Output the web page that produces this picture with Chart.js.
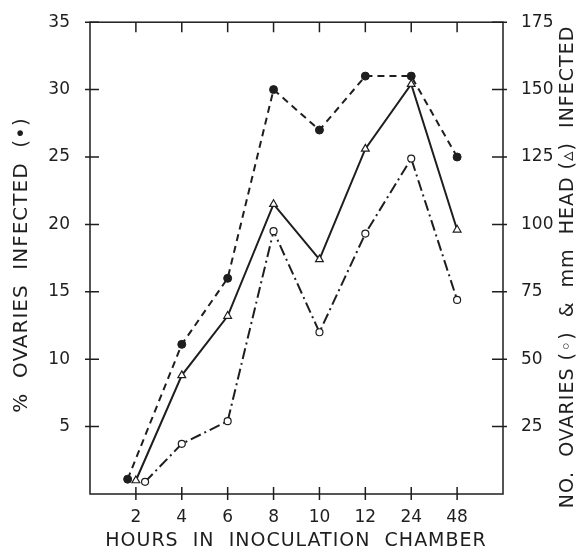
<!DOCTYPE html>
<html>
<head>
<meta charset="utf-8">
<script src="https://cdn.jsdelivr.net/npm/chart.js@4"></script>
<style>
  html, body { margin: 0; padding: 0; background: #fff; }
  #wrap { width: 578px; height: 558px; }
</style>
</head>
<body>
<div id="wrap"><canvas id="chart" width="578" height="558"></canvas></div>
<script>
// hours in inoculation chamber (evenly spaced categories)
const hours = ['2', '4', '6', '8', '10', '12', '24', '48'];
// category slot of each point; at 2 h the three symbols are nudged apart
const dotSlots = [0.82, 2, 3, 4, 5, 6, 7, 8];
const triSlots = [1.0, 2, 3, 4, 5, 6, 7, 8];
const circSlots = [1.2, 2, 3, 4, 5, 6, 7, 8];

// % ovaries infected (filled dots, left axis)
const pctOvaries = [1.1, 11.1, 16, 30, 27, 31, 31, 25];
// mm head infected (triangles, right axis)
const mmHead = [5, 44, 66, 107.5, 87, 128, 152, 98];
// no. ovaries infected (open circles, right axis)
const noOvaries = [4.5, 18.6, 27, 97.5, 60, 96.6, 124.4, 72];

const leftTicks = [5, 10, 15, 20, 25, 30, 35];
const rightTicks = [25, 50, 75, 100, 125, 150, 175];

const ink = '#1e1e1e';
const FONT = '"DejaVu Sans", "Liberation Sans", sans-serif';

function pts(xs, ys) {
    return ys.map((y, i) => ({ x: xs[i], y: y }));
}

const framePlugin = {
    id: 'frame',
    afterDraw(chart) {
        const ctx = chart.ctx;
        const a = chart.chartArea;
        const sx = chart.scales.x, sy = chart.scales.y, sy1 = chart.scales.y1;
        ctx.save();
        ctx.strokeStyle = ink;
        ctx.lineWidth = 1.5;
        ctx.strokeRect(a.left, a.top, a.right - a.left, a.bottom - a.top);

        ctx.beginPath();
        hours.forEach((h, i) => {
            const x = sx.getPixelForValue(i + 1);
            ctx.moveTo(x, a.bottom - 7); ctx.lineTo(x, a.bottom + 6);
            ctx.moveTo(x, a.top); ctx.lineTo(x, a.top + 10);
        });
        leftTicks.forEach(v => {
            const y = sy.getPixelForValue(v);
            ctx.moveTo(a.left - 5, y); ctx.lineTo(a.left + 9, y);
        });
        rightTicks.forEach(v => {
            const y = sy1.getPixelForValue(v);
            ctx.moveTo(a.right - 11, y); ctx.lineTo(a.right + 4, y);
        });
        ctx.stroke();

        // axis titles
        ctx.fillStyle = ink;
        ctx.textAlign = 'center';
        ctx.textBaseline = 'middle';
        if ('letterSpacing' in ctx) ctx.letterSpacing = '1px';

        ctx.font = '19px ' + FONT;
        ctx.fillText('HOURS  IN  INOCULATION  CHAMBER', 296, 541);

        ctx.save();
        ctx.font = '20px ' + FONT;
        ctx.translate(22, 265);
        ctx.rotate(-Math.PI / 2);
        ctx.fillText('%  OVARIES  INFECTED  (•)', 0, 0);
        ctx.restore();

        ctx.save();
        ctx.font = '19px ' + FONT;
        ctx.translate(568, 267);
        ctx.rotate(-Math.PI / 2);
        ctx.fillText('NO.  OVARIES (◦)  &  mm  HEAD (▵)  INFECTED', 0, 0);
        ctx.restore();

        ctx.restore();
    }
};

new Chart(document.getElementById('chart'), {
    type: 'line',
    data: {
        datasets: [
            {
                label: '% ovaries infected',
                data: pts(dotSlots, pctOvaries),
                yAxisID: 'y',
                borderColor: ink,
                borderWidth: 2,
                borderDash: [7, 5],
                pointStyle: 'circle',
                pointRadius: 4,
                pointBackgroundColor: ink,
                pointBorderColor: ink,
                pointBorderWidth: 1
            },
            {
                label: 'mm head infected',
                data: pts(triSlots, mmHead),
                yAxisID: 'y1',
                borderColor: ink,
                borderWidth: 2,
                pointStyle: 'triangle',
                pointRadius: 4.5,
                pointBackgroundColor: '#fff',
                pointBorderColor: ink,
                pointBorderWidth: 1.2
            },
            {
                label: 'no. ovaries infected',
                data: pts(circSlots, noOvaries),
                yAxisID: 'y1',
                borderColor: ink,
                borderWidth: 2,
                borderDash: [11, 4, 2, 4],
                pointStyle: 'circle',
                pointRadius: 3.5,
                pointBackgroundColor: '#fff',
                pointBorderColor: ink,
                pointBorderWidth: 1.2
            }
        ]
    },
    options: {
        responsive: false,
        animation: false,
        layout: { padding: { top: 17, left: 0, right: 0, bottom: 0 } },
        plugins: { legend: { display: false }, tooltip: { enabled: false } },
        scales: {
            x: {
                type: 'linear',
                min: 0,
                max: 9,
                afterBuildTicks: s => { s.ticks = hours.map((h, i) => ({ value: i + 1 })); },
                afterFit: s => { s.height = 64; },
                grid: { display: false },
                border: { display: false },
                ticks: {
                    padding: 5,
                    color: ink,
                    font: { family: FONT, size: 17 },
                    maxRotation: 0,
                    callback: v => hours[v - 1]
                }
            },
            y: {
                position: 'left',
                min: 0,
                max: 35,
                afterBuildTicks: s => { s.ticks = leftTicks.map(v => ({ value: v })); },
                afterFit: s => { s.width = 90; },
                grid: { display: false },
                border: { display: false },
                ticks: {
                    padding: 12,
                    color: ink,
                    font: { family: FONT, size: 17 }
                }
            },
            y1: {
                position: 'right',
                min: 0,
                max: 175,
                afterBuildTicks: s => { s.ticks = rightTicks.map(v => ({ value: v })); },
                afterFit: s => { s.width = 75; },
                grid: { display: false },
                border: { display: false },
                ticks: {
                    padding: 10,
                    color: ink,
                    font: { family: FONT, size: 17 }
                }
            }
        }
    },
    plugins: [framePlugin]
});
</script>
</body>
</html>
